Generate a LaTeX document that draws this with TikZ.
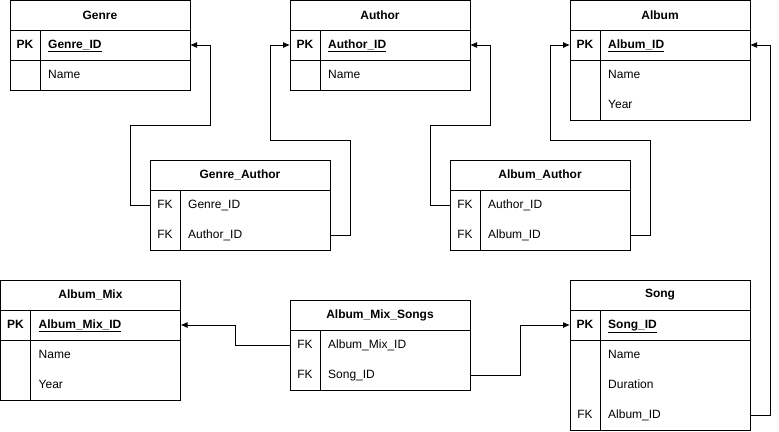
\documentclass[tikz,border=0pt]{standalone}
\usepackage{fontspec}
\setmainfont{Liberation Sans}
\usetikzlibrary{arrows.meta}
\newcommand\errow[5]{%
  \node[rowspot] (#1) at (#2,#3) {};
  \node[keytxt] (#1-k) at ([xshift=15pt]#1.west) {#4};
  \node[fldtxt] (#1-f) at ([xshift=38pt]#1.west) {#5};
}
\begin{document}
\begin{tikzpicture}[x=1pt,y=-1pt,
  every node/.style={font=\fontsize{12}{14}\selectfont},
  box/.style={draw, line width=1pt, minimum width=180pt, minimum height=#1, inner sep=0pt, outer sep=0pt, anchor=north west},
  box/.default=30pt,
  hdr/.style={box, font=\fontsize{12}{14}\selectfont\bfseries},
  rowspot/.style={minimum width=180pt, minimum height=30pt, inner sep=0pt, outer sep=0pt, anchor=north west},
  keytxt/.style={inner sep=0pt, text height=9.2pt, text depth=2.0pt},
  fldtxt/.style={inner sep=0pt, anchor=west, text height=9.2pt, text depth=2.0pt},
  divider/.style={draw, line width=1pt},
  fk/.style={draw, line width=1pt, -{Latex[length=7pt,width=6pt]}},
]
\useasboundingbox (0,0) rectangle (779,431);

% Genre
\node[hdr] (genre) at (10,0) {Genre};
\node[box] (genre-pk) at (10,30) {};
\node[box=30pt] (genre-sec) at (10,60) {};
\errow{genre-r1}{10}{30}{\bfseries PK}{\bfseries\underline{Genre\_ID}}
\errow{genre-r2}{10}{60}{}{Name}
\draw[divider] (40,30) -- (40,90);

% Author
\node[hdr] (author) at (290,0) {Author};
\node[box] (author-pk) at (290,30) {};
\node[box=30pt] (author-sec) at (290,60) {};
\errow{author-r1}{290}{30}{\bfseries PK}{\bfseries\underline{Author\_ID}}
\errow{author-r2}{290}{60}{}{Name}
\draw[divider] (320,30) -- (320,90);

% Album
\node[hdr] (album) at (570,0) {Album};
\node[box] (album-pk) at (570,30) {};
\node[box=60pt] (album-sec) at (570,60) {};
\errow{album-r1}{570}{30}{\bfseries PK}{\bfseries\underline{Album\_ID}}
\errow{album-r2}{570}{60}{}{Name}
\errow{album-r3}{570}{90}{}{Year}
\draw[divider] (600,30) -- (600,120);

% Genre_Author
\node[hdr] (ga) at (150,160) {Genre\_Author};
\node[box=60pt] (ga-sec) at (150,190) {};
\errow{ga-r1}{150}{190}{FK}{Genre\_ID}
\errow{ga-r2}{150}{220}{FK}{Author\_ID}
\draw[divider] (180,190) -- (180,250);

% Album_Author
\node[hdr] (aa) at (450,160) {Album\_Author};
\node[box=60pt] (aa-sec) at (450,190) {};
\errow{aa-r1}{450}{190}{FK}{Author\_ID}
\errow{aa-r2}{450}{220}{FK}{Album\_ID}
\draw[divider] (480,190) -- (480,250);

% Album_Mix
\node[hdr] (mix) at (0.5,280) {Album\_Mix};
\node[box] (mix-pk) at (0.5,310) {};
\node[box=60pt] (mix-sec) at (0.5,340) {};
\errow{mix-r1}{0.5}{310}{\bfseries PK}{\bfseries\underline{Album\_Mix\_ID}}
\errow{mix-r2}{0.5}{340}{}{Name}
\errow{mix-r3}{0.5}{370}{}{Year}
\draw[divider] (30.5,310) -- (30.5,400);

% Album_Mix_Songs
\node[hdr] (ams) at (290,300) {Album\_Mix\_Songs};
\node[box=60pt] (ams-sec) at (290,330) {};
\errow{ams-r1}{290}{330}{FK}{Album\_Mix\_ID}
\errow{ams-r2}{290}{360}{FK}{Song\_ID}
\draw[divider] (320,330) -- (320,390);

% Song
\node[hdr] (song) at (570,280) {Song};
\node[box] (song-pk) at (570,310) {};
\node[box=90pt] (song-sec) at (570,340) {};
\errow{song-r1}{570}{310}{\bfseries PK}{\bfseries\underline{Song\_ID}}
\errow{song-r2}{570}{340}{}{Name}
\errow{song-r3}{570}{370}{}{Duration}
\errow{song-r4}{570}{400}{FK}{Album\_ID}
\draw[divider] (600,310) -- (600,430);

% Connectors
\draw[fk] (ga-r1.west) -- (130,205) -- (130,125) -- (210,125) -- (210,45) -- (genre-r1.east);
\draw[fk] (ga-r2.east) -- (350,235) -- (350,140) -- (270,140) -- (270,45) -- (author-r1.west);
\draw[fk] (aa-r1.west) -- (430,205) -- (430,125) -- (490,125) -- (490,45) -- (author-r1.east);
\draw[fk] (aa-r2.east) -- (650,235) -- (650,140) -- (550,140) -- (550,45) -- (album-r1.west);
\draw[fk] (song-r4.east) -- (770,415) -- (770,45) -- (album-r1.east);
\draw[fk] (ams-r1.west) -- (235,345) -- (235,325) -- (mix-r1.east);
\draw[fk] (ams-r2.east) -- (520,375) -- (520,325) -- (song-r1.west);
\end{tikzpicture}
\end{document}
